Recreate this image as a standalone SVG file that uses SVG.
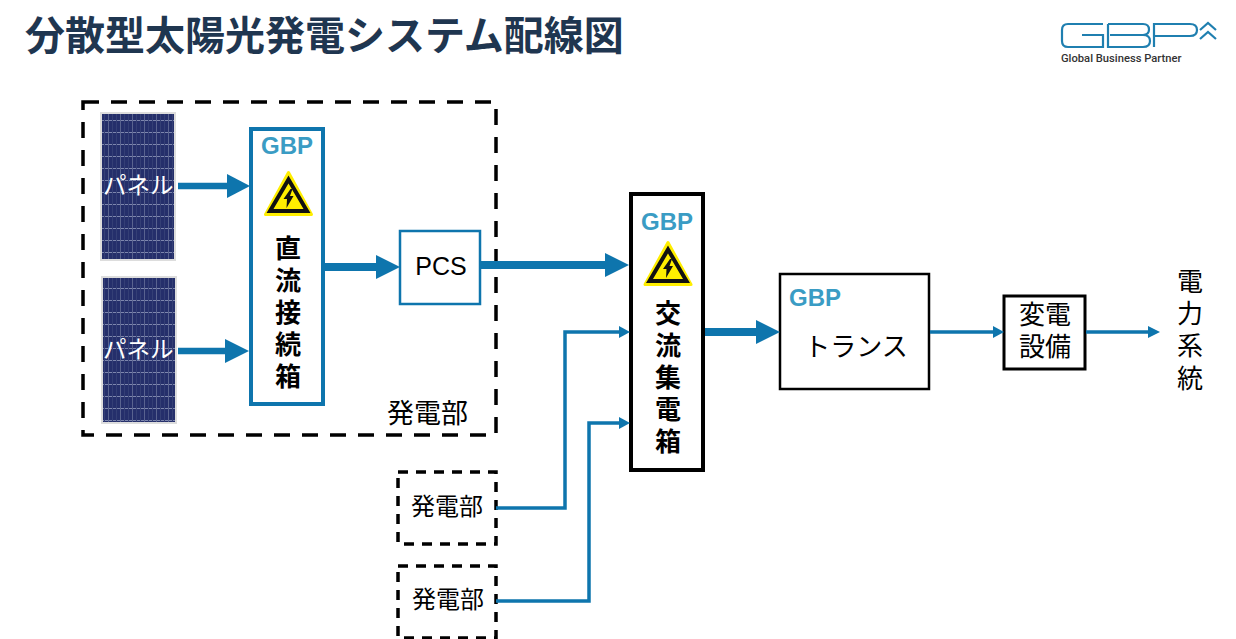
<svg xmlns="http://www.w3.org/2000/svg" xmlns:xlink="http://www.w3.org/1999/xlink" width="1236" height="639" viewBox="0 0 1236 639">
<style>
text{font-family:"Noto Sans CJK JP","Liberation Sans",sans-serif;fill:#000}
.title{font-size:40px;font-weight:700;fill:#1f3650}
.gbp{font-family:"Liberation Sans",sans-serif;font-size:24px;font-weight:700;fill:#3a9cc4}
.v{font-size:26px;font-weight:700;writing-mode:vertical-rl;letter-spacing:6px}
.g{font-size:26px;writing-mode:vertical-rl;letter-spacing:6.300px}
.dash{fill:#fff;stroke:#000;stroke-width:3.500;stroke-dasharray:10 8}
.c{fill:none;stroke:#0e75ad}
.h{fill:#0e75ad}
.lg{fill:none;stroke:#1f7fb0;stroke-width:2.200}
</style>
<defs>
<g id="warn">
<path d="M0,-22.500 L23,19.500 H-23Z" fill="#ffee00" stroke="#ffee00" stroke-width="3" stroke-linejoin="round"/>
<path d="M0,-15.500 L18.500,16 H-18.500Z" fill="#ffee00" stroke="#111" stroke-width="4" stroke-linejoin="miter"/>
<path d="M2,-6 L-5,4 L-1.500,4 L-2,13 L5,1 L1.500,1 L4,-6Z" fill="#111"/>
</g>
<pattern id="cells" width="12" height="12" patternUnits="userSpaceOnUse">
<rect width="12" height="12" fill="#252f6b"/>
<path d="M0,.5H12" stroke="#7d86ad" stroke-width="1"/>
<path d="M.5,0V12" stroke="#59638f" stroke-width="1"/>
<path d="M4.500,0V12M8.500,0V12" stroke="#343f75" stroke-width="1"/>
</pattern>
</defs>
<rect width="1236" height="639" fill="#fff"/>
<text class="title" x="25" y="50">分散型太陽光発電システム配線図</text>
<g id="logo">
<path class="lg" d="M1103,24H1068Q1062,24 1062,30V41Q1062,47 1068,47H1103V35H1082"/>
<path class="lg" d="M1108,24H1143Q1149,24 1149,29.500Q1149,35 1143,35H1110M1143,35Q1150,35 1150,41Q1150,47 1143,47H1108V24"/>
<path class="lg" d="M1154,47V24H1190Q1197,24 1197,30Q1197,36 1190,36H1155"/>
<path class="lg" d="M1200,30L1208,23L1216,30M1200,39L1208,32L1216,39"/>
<text x="1061" y="62" font-size="11.200" font-weight="500" style="font-family:Roboto,'Liberation Sans',sans-serif;fill:#333">Global Business Partner</text>
</g>
<g id="generator-frame"><rect x="83" y="102" width="413" height="333" fill="none" stroke="#000" stroke-width="3.500" stroke-dasharray="16 12"/><text x="387" y="423" font-size="27">発電部</text></g>
<g id="panel1"><rect x="101" y="113" width="74" height="147" fill="url(#cells)" stroke="#ddd" stroke-width="2"/><text x="103" y="194" font-size="23.500" style="fill:#fff">パネル</text></g>
<g id="panel2"><rect x="102" y="277" width="74" height="146" fill="url(#cells)" stroke="#ddd" stroke-width="2"/><text x="103" y="358" font-size="23.500" style="fill:#fff">パネル</text></g>
<g id="dc-box"><rect x="251" y="129" width="72" height="275" fill="#fff" stroke="#0e75ad" stroke-width="4"/><text class="gbp" x="287" y="154" text-anchor="middle">GBP</text><use xlink:href="#warn" x="288.500" y="195"/>
<text class="v" x="288" y="235">直流接続箱</text></g>
<g id="pcs"><rect x="400" y="231" width="80" height="73" fill="#fff" stroke="#0e75ad" stroke-width="2.500"/><text x="441" y="275" font-size="25" text-anchor="middle" style="font-family:'Liberation Sans',sans-serif">PCS</text></g>
<g id="ac-box"><rect x="631" y="194" width="72" height="276" fill="#fff" stroke="#000" stroke-width="4"/><text class="gbp" x="667" y="230" text-anchor="middle">GBP</text><use xlink:href="#warn" x="668" y="265"/>
<text class="v" x="668" y="300">交流集電箱</text></g>
<g id="transformer"><rect x="780" y="274" width="149" height="115" fill="#fff" stroke="#000" stroke-width="2.500"/><text class="gbp" x="815" y="306" text-anchor="middle">GBP</text><text x="856" y="356" font-size="26" text-anchor="middle">トランス</text></g>
<g id="substation"><rect x="1004" y="296" width="81" height="73" fill="#fff" stroke="#000" stroke-width="3"/><text font-size="26" text-anchor="middle"><tspan x="1045" y="324">変電</tspan><tspan x="1045" y="356">設備</tspan></text></g>
<g id="grid"><text class="g" x="1190" y="268">電力系統</text></g>
<g id="gen2"><rect x="398" y="472" width="98" height="72" class="dash"/><text x="447" y="515" font-size="24" text-anchor="middle">発電部</text></g>
<g id="gen3"><rect x="398" y="566" width="98" height="72" class="dash"/><text x="448" y="608" font-size="24" text-anchor="middle">発電部</text></g>
<g id="connectors">
<path class="c" stroke-width="6.500" d="M178,186H228"/><path class="h" d="M227,174L250,186L227,198Z"/>
<path class="c" stroke-width="6.500" d="M178,351H226"/><path class="h" d="M225,339L249,351L225,363Z"/>
<path class="c" stroke-width="8" d="M324,267H377"/><path class="h" d="M376,255L400,267L376,279Z"/>
<path class="c" stroke-width="8" d="M481,265H606"/><path class="h" d="M605,253L629,265L605,277Z"/>
<path class="c" stroke-width="8" d="M705,332H757"/><path class="h" d="M756,320L780,332L756,344Z"/>
<path class="c" stroke-width="3.500" d="M930,332H994"/><path class="h" d="M993,326L1004,332L993,338Z"/>
<path class="c" stroke-width="3.500" d="M1086,332H1149"/><path class="h" d="M1148,326L1160,332L1148,338Z"/>
<path class="c" stroke-width="3.500" d="M496,508H565V332H620"/><path class="h" d="M619,326L630,332L619,338Z"/>
<path class="c" stroke-width="3.500" d="M496,601H589V423H620"/><path class="h" d="M619,417L630,423L619,429Z"/>
</g>
</svg>
